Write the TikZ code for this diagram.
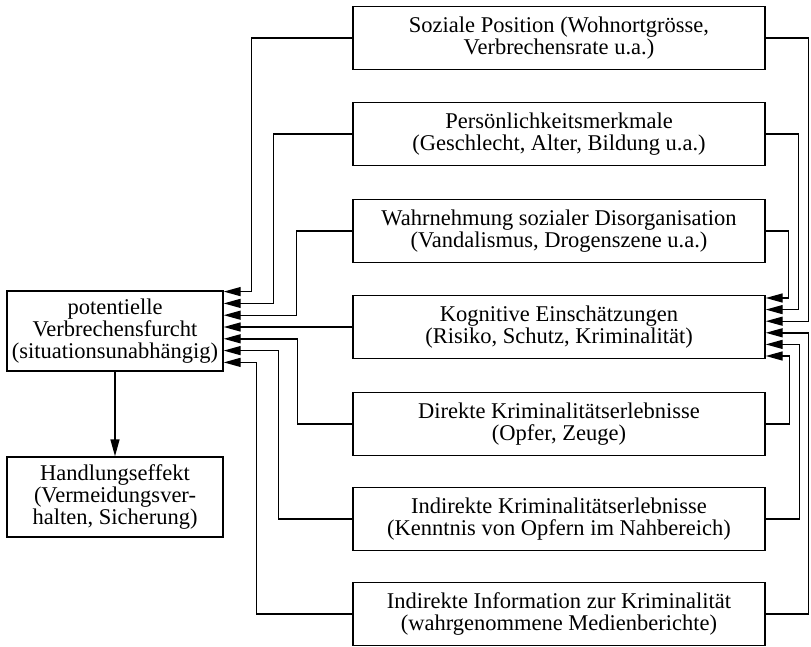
\documentclass[tikz,border=0pt]{standalone}
\usepackage{fontspec}
\setmainfont{Liberation Serif}
\usetikzlibrary{arrows.meta}

\begin{document}
\begin{tikzpicture}[x=1pt,y=-1pt,line width=1.4pt,
  box/.style={draw,align=center,inner sep=0pt,minimum width=412pt,minimum height=63pt,
    font=\fontsize{22.5}{22}\selectfont},
  lbox/.style={box,minimum width=216pt,minimum height=80pt},
  fl/.style={-{Triangle[length=17pt,width=9pt]}}]
  % parameters
  \def\bx{559}   % centre of the right boxes
  \def\ds{11.8}  % port spacing, left
  \def\dr{11.6}  % port spacing, right

  \useasboundingbox (0,0) rectangle (811,647);

  % right column
  \node[box] (soz)  at (\bx,38)  {Soziale Position (Wohnortgrösse,\\Verbrechensrate u.a.)};
  \node[box] (pers) at (\bx,134) {Persönlichkeitsmerkmale\\(Geschlecht, Alter, Bildung u.a.)};
  \node[box] (wahr) at (\bx,231) {Wahrnehmung sozialer Disorganisation\\(Vandalismus, Drogenszene u.a.)};
  \node[box] (kog)  at (\bx,327) {Kognitive Einschätzungen\\(Risiko, Schutz, Kriminalität)};
  \node[box] (dir)  at (\bx,424) {Direkte Kriminalitätserlebnisse\\(Opfer, Zeuge)};
  \node[box] (indk) at (\bx,519) {Indirekte Kriminalitätserlebnisse\\(Kenntnis von Opfern im Nahbereich)};
  \node[box] (info) at (\bx,614) {Indirekte Information zur Kriminalität\\(wahrgenommene Medienberichte)};

  % left column
  \node[lbox] (pot)  at (115,331) {potentielle\\Verbrechensfurcht\\(situationsunabhängig)};
  \node[lbox] (hand) at (115,497) {Handlungseffekt\\(Vermeidungsver-\\halten, Sicherung)};

  % ports on the sides
  \foreach \k in {1,...,7}
    \path (pot.east |- kog.west) ++(0,{(\k-4)*\ds}) coordinate (L\k);
  \foreach \j in {1,...,6}
    \path (kog.east) ++(0,{(\j-3.5)*\dr}) coordinate (R\j);

  % into the fear box
  \foreach \src/\xx/\k in {soz/252/1,pers/274/2,wahr/297/3,dir/298/5,indk/279/6,info/257/7}
    \draw[fl] (\src.west) -- ++({\xx-353},0) |- (L\k);
  \draw[fl] (kog.west) -- (L4);

  % into the cognitive box
  \foreach \src/\xx/\j in {wahr/788/1,pers/798/2,soz/808/3,info/808/4,indk/799/5,dir/789/6}
    \draw[fl] (\src.east) -- ++({\xx-765},0) |- (R\j);

  \draw[fl] (pot.south) -- (hand.north);
\end{tikzpicture}
\end{document}
